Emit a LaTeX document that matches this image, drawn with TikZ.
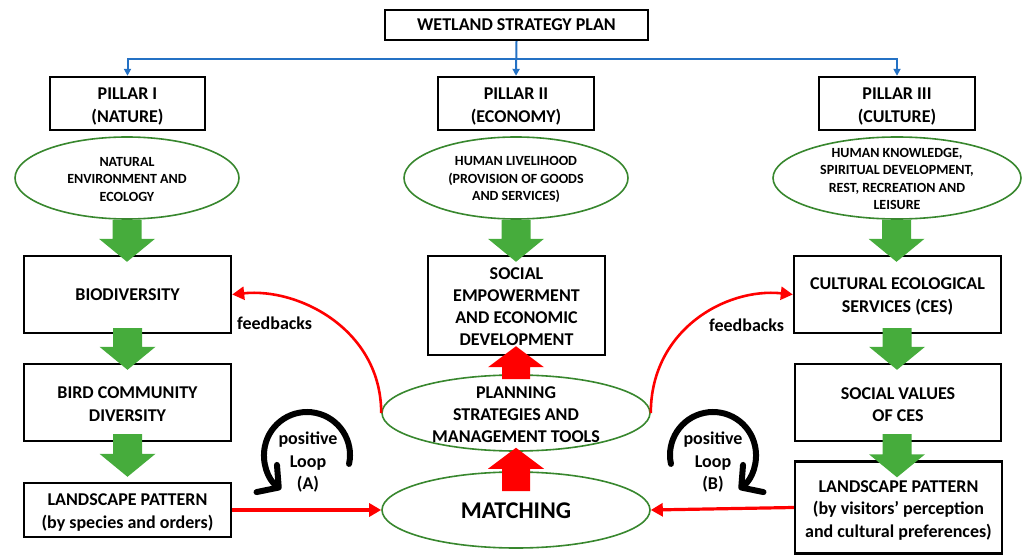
\documentclass[tikz,border=0pt]{standalone}
\usepackage{fontspec}
\setmainfont{Carlito}
\usetikzlibrary{shapes.geometric,arrows.meta,calc}

\definecolor{flowgreen}{RGB}{70,172,60}
\definecolor{ovalgreen}{RGB}{56,135,46}
\definecolor{linkblue}{RGB}{36,113,196}
\definecolor{flowred}{RGB}{255,0,0}

% block arrow pointing down: #2 start point, #3 tip
\newcommand\blockdown[3][flowgreen]{%
  \fill[#1] let \p1=#2, \p2=#3 in
    (\x1-14.5pt,\y1) -- (\x1+14.5pt,\y1) -- (\x1+14.5pt,\y2+23pt) --
    (\x1+28pt,\y2+23pt) -- (\x1,\y2) -- (\x1-28pt,\y2+23pt) --
    (\x1-14.5pt,\y2+23pt) -- cycle;}
% block arrow pointing up: #2 start point, #3 tip
\newcommand\blockup[3][flowred]{%
  \fill[#1] let \p1=#2, \p2=#3 in
    (\x1-14pt,\y1) -- (\x1+14pt,\y1) -- (\x1+14pt,\y2-21pt) --
    (\x1+28pt,\y2-21pt) -- (\x1,\y2) -- (\x1-28pt,\y2-21pt) --
    (\x1-14pt,\y2-21pt) -- cycle;}

\begin{document}
\begin{tikzpicture}[x=1pt,y=-1pt,
  box/.style={draw=black,line width=2.4pt,fill=white,rectangle,inner sep=0pt,
    align=center,font=\fontsize{18}{22.5}\selectfont\bfseries},
  boxtext/.style={inner sep=0pt,align=center,font=\fontsize{18}{22.5}\selectfont\bfseries},
  oval/.style={draw=ovalgreen,line width=1.6pt,ellipse,inner sep=0pt,fill=white},
  ovaltext/.style={align=center,inner sep=0pt,font=\fontsize{14}{17.5}\selectfont\bfseries},
  bigtext/.style={align=center,inner sep=0pt,font=\fontsize{18}{22}\selectfont\bfseries},
  bluelink/.style={draw=linkblue,line width=2pt,-{Triangle[length=7pt,width=7pt]}},
  redlink/.style={draw=flowred,line width=2.6pt,-{Triangle[length=12pt,width=13pt]}},
  loopline/.style={draw=black,line width=6pt,line cap=round,line join=round,
    -{Straight Barb[length=15pt,width=34pt,line cap=round,line join=round]}},
  note/.style={inner sep=0pt,font=\fontsize{18}{22}\selectfont\bfseries}
]
\useasboundingbox (0,0) rectangle (1023,556);

% top level and pillars
\node[box,minimum width=263,minimum height=30] (title) at (516.5,25) {WETLAND STRATEGY PLAN};
\node[box,minimum width=155,minimum height=53] (p1) at (127.5,103.5) {};
\node[box,minimum width=156,minimum height=53] (p2) at (516,103.5) {};
\node[box,minimum width=156,minimum height=53] (p3) at (897,103.5) {};
\node[boxtext] at ($(p1.center)+(0,3)$) {PILLAR I\\(NATURE)};
\node[boxtext] at ($(p2.center)+(0,3)$) {PILLAR II\\(ECONOMY)};
\node[boxtext] at ($(p3.center)+(0,3)$) {PILLAR III\\(CULTURE)};

\coordinate (split) at ($(title.south)+(0,18)$);
\draw[bluelink] (title.south) -- (p2.north);
\draw[bluelink] (split) -| (p1.north);
\draw[bluelink] (split) -| (p3.north);

% pillar themes
\node[oval,minimum width=224,minimum height=82] (e1) at (127,178) {};
\node[ovaltext] at ($(e1.center)+(0,1.5)$) {NATURAL\\ENVIRONMENT AND\\ECOLOGY};
\node[oval,minimum width=224,minimum height=82] (e2) at (516,178) {};
\node[ovaltext] at ($(e2.center)+(0,1.5)$) {HUMAN LIVELIHOOD\\(PROVISION OF GOODS\\AND SERVICES)};
\node[oval,minimum width=248,minimum height=82] (e3) at (897,178) {};
\node[ovaltext] at ($(e3.center)+(0,1)$) {HUMAN KNOWLEDGE,\\SPIRITUAL DEVELOPMENT,\\REST, RECREATION AND\\LEISURE};

% left column
\node[box,minimum width=207,minimum height=77] (bio) at (127.5,294.5) {BIODIVERSITY};
\node[box,minimum width=207,minimum height=77] (bird) at (127.5,402.5) {};
\node[boxtext] at ($(bird.center)+(0,1.5)$) {BIRD COMMUNITY\\DIVERSITY};
\node[box,minimum width=207,minimum height=54] (landA) at (127.5,510) {};
\node[boxtext] at ($(landA.center)+(0,2.5)$) {LANDSCAPE PATTERN\\(by species and orders)};

% middle column
\node[box,minimum width=177,minimum height=99] (soc) at (516.5,305.5) {};
\node[boxtext,font=\fontsize{18}{22}\selectfont\bfseries] at ($(soc.center)+(0,1.5)$) {SOCIAL\\EMPOWERMENT\\AND ECONOMIC\\DEVELOPMENT};
\node[oval,minimum width=268,minimum height=76] (plan) at (516,413) {};
\node[bigtext] at ($(plan.center)+(0,1.5)$) {PLANNING\\STRATEGIES AND\\MANAGEMENT TOOLS};
\node[oval,minimum width=268,minimum height=76] (match) at (516,510) {};
\node[inner sep=0pt,font=\fontsize{24}{28}\selectfont\bfseries] at ($(match.center)+(0,1)$) {MATCHING};

% right column
\node[box,minimum width=207,minimum height=77] (ces) at (897.5,294.5) {};
\node[boxtext] at ($(ces.center)+(0,2)$) {CULTURAL ECOLOGICAL\\SERVICES (CES)};
\node[box,minimum width=206,minimum height=77] (sv) at (898,402.5) {};
\node[boxtext] at ($(sv.center)+(0,2)$) {SOCIAL VALUES\\OF CES};
\node[box,minimum width=207,minimum height=92] (landB) at (898.5,507.5) {};
\node[boxtext] at ($(landB.center)+(0,3)$) {LANDSCAPE PATTERN\\(by visitors’ perception\\and cultural preferences)};

% green flow arrows
\blockdown{(e1.south)}{($(bio.north)+(0,7)$)}
\blockdown{($(bio.south)+(0,-6)$)}{($(bird.north)+(0,7)$)}
\blockdown{($(bird.south)+(0,-8)$)}{($(landA.north)+(0,-5)$)}
\blockdown{(e2.south)}{($(soc.north)+(0,7)$)}
\blockdown{($(e3.south)+(-0.5,0)$)}{($(ces.north)+(0,7)$)}
\blockdown{($(ces.south)+(-0.5,-6)$)}{($(sv.north)+(0,7)$)}
\blockdown{($(sv.south)+(-1,-8)$)}{($(landB.north)+(0,17)$)}

% red flow arrows
\blockup{($(match.north)+(0,20)$)}{($(plan.south)+(0,-4)$)}
\blockup{($(plan.north)+(0,5)$)}{($(soc.south)+(0,-10)$)}

% feedback links
\draw[redlink] (plan.west) .. controls +(0,-83) and +(67,-7) .. (bio.east);
\draw[redlink] (plan.east) .. controls +(0,-83) and +(-67,-7) .. (ces.west);
\node[note,anchor=west] (fbA) at (237,323) {feedbacks};
\node[note,anchor=west] (fbB) at (709,325) {feedbacks};

% pattern matching links
\draw[redlink,line width=3.2pt] (landA.east) -- (match.west);
\draw[redlink,line width=3.2pt] (landB.west) -- (match.east);

% positive loops
\coordinate (loopAc) at (307,455);
\coordinate (loopBc) at (713,455);
\draw[loopline] ($(loopAc)+(12:43)$) arc[start angle=12,end angle=-233,radius=43];
\draw[loopline] ($(loopBc)+(168:43)$) arc[start angle=168,end angle=413,radius=43];
\node[note,align=center,font=\fontsize{18}{22.5}\selectfont\bfseries] (loopA) at (308,462.5) {positive\\Loop\\(A)};
\node[note,align=center,font=\fontsize{18}{22.5}\selectfont\bfseries] (loopB) at (713,462.5) {positive\\Loop\\(B)};
\end{tikzpicture}
\end{document}
